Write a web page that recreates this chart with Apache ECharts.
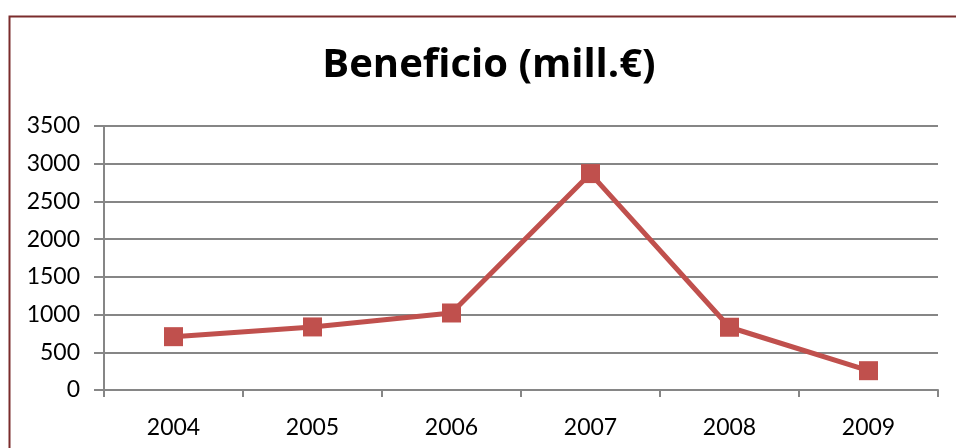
<!DOCTYPE html>
<html><head><meta charset="utf-8">
<script src="https://cdn.jsdelivr.net/npm/echarts@6/dist/echarts.min.js"></script>
<style>html,body{margin:0;padding:0;background:#fff}#c{width:956px;height:448px}</style>
</head><body><div id="c"></div>
<script>
const titleText = 'Beneficio (mill.€)';
const categories = ['2004','2005','2006','2007','2008','2009'];
const beneficio = [707, 836, 1021, 2869, 832, 256];
const yTicks = [0, 500, 1000, 1500, 2000, 2500, 3000, 3500];

const chart = echarts.init(document.getElementById('c'), null, {renderer:'canvas'});
chart.setOption({
  backgroundColor:'#ffffff',
  animation:false,
  graphic:[{type:'rect', left:7, top:14, shape:{width:1000, height:500}, style:{fill:'none', stroke:'#7b2c2c', lineWidth:2}, z:-1}],
  title:{text:titleText, left:484, top:41, textAlign:'center',
    textStyle:{fontFamily:'Open Sans', fontWeight:'bold', fontSize:40, color:'#000'}},
  grid:{left:104, right:18, top:126, bottom:58, containLabel:false},
  xAxis:{type:'category', data:categories, boundaryGap:true,
    axisLine:{lineStyle:{color:'#868686', width:2}},
    axisTick:{show:true, length:7, alignWithLabel:false, lineStyle:{color:'#868686', width:2}},
    axisLabel:{fontFamily:'Lato', fontSize:23, color:'#000', margin:26}},
  yAxis:{type:'value', min:yTicks[0], max:yTicks[yTicks.length-1], interval:500,
    axisLine:{show:true, lineStyle:{color:'#868686', width:2}},
    axisTick:{show:true, length:10, lineStyle:{color:'#868686', width:2}},
    splitLine:{show:true, lineStyle:{color:'#868686', width:2}},
    axisLabel:{fontFamily:'Lato', fontSize:23, color:'#000', margin:24, formatter:(v)=>String(v)}},
  series:[{type:'line', data:beneficio, symbol:'rect', symbolSize:19,
    lineStyle:{color:'#c0504d', width:5}, itemStyle:{color:'#c0504d'}}]
});
</script></body></html>
